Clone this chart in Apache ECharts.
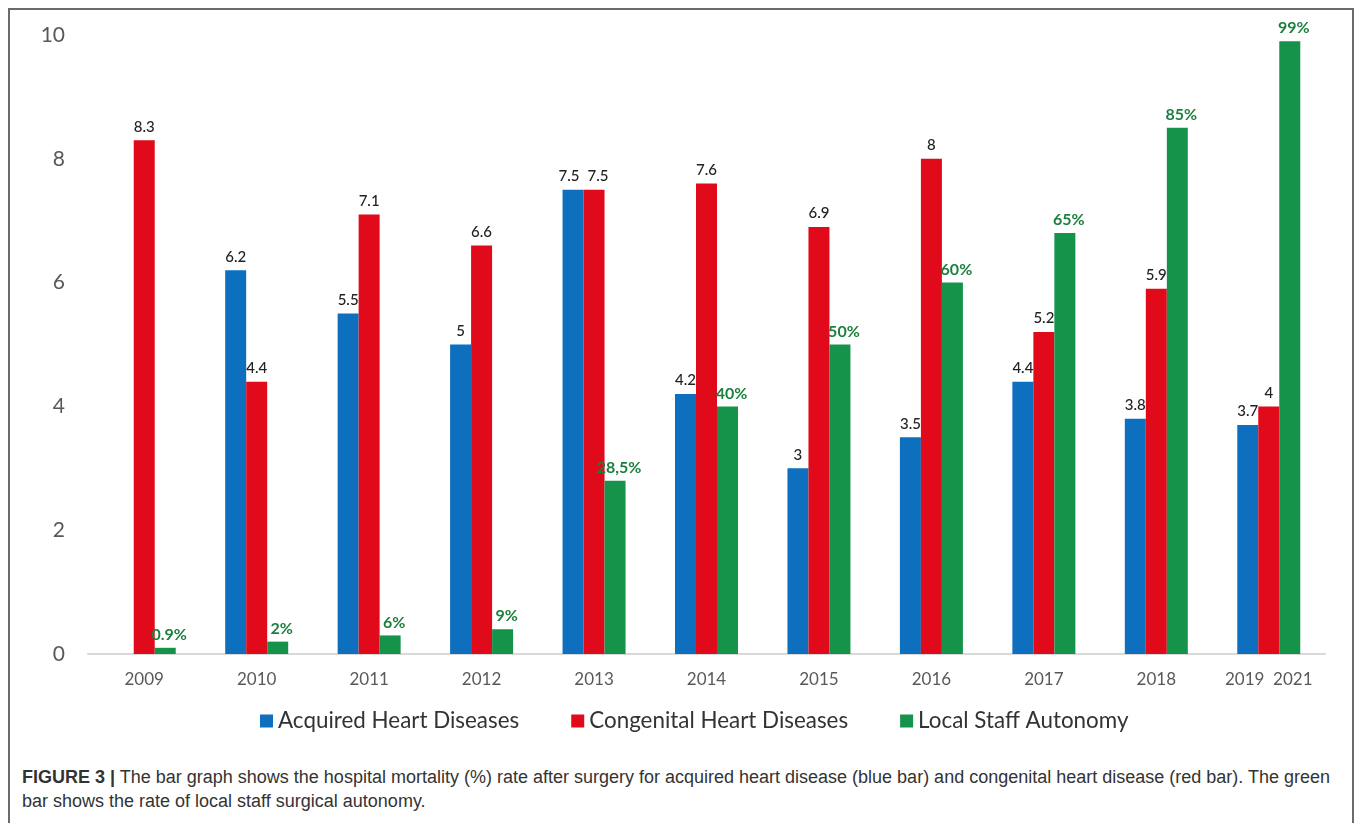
<!DOCTYPE html>
<html><head><meta charset="utf-8">
<script src="https://cdn.jsdelivr.net/npm/echarts@6/dist/echarts.min.js"></script>
<style>
html,body{margin:0;padding:0;background:#fff;width:1358px;height:823px;overflow:hidden;}
#frame{position:absolute;left:8px;top:8px;width:1346px;height:830px;border:2px solid #6b6b6b;border-bottom:none;box-sizing:border-box;}
#chart{position:absolute;left:0;top:0;width:1358px;height:760px;}
#cap{position:absolute;left:22px;top:765px;font-family:"Liberation Sans",Arial,sans-serif;font-size:18px;line-height:24px;color:#333;white-space:nowrap;}
</style></head><body>
<div id="frame"></div>
<div id="chart"></div>
<div id="cap"><b>FIGURE 3 |</b> The bar graph shows the hospital mortality (%) rate after surgery for acquired heart disease (blue bar) and congenital heart disease (red bar). The green<br>bar shows the rate of local staff surgical autonomy.</div>
<script>
const categories = ['2009','2010','2011','2012','2013','2014','2015','2016','2017','2018','2019  2021'];
const acquired = [null,6.2,5.5,5,7.5,4.2,3,3.5,4.4,3.8,3.7];
const congenital = [8.3,4.4,7.1,6.6,7.5,7.6,6.9,8,5.2,5.9,4];
const autonomyBar = [0.1,0.2,0.3,0.4,2.8,4,5,6,6.8,8.5,9.9];
const autonomyLabels = ['0.9%','2%','6%','9%','28,5%','40%','50%','60%','65%','85%','99%'];
const yTicks = [0,2,4,6,8,10];

const font = 'Lato, "Open Sans", sans-serif';
const chart = echarts.init(document.getElementById('chart'));
const numLabel = {show:true,position:'top',distance:6,color:'#222',fontFamily:font,fontSize:15,fontWeight:500};
// separate the two equal labels of 2013 a little, as in the original
function withNudge(arr, idx, dx){
  return arr.map((v,i)=> i===idx ? {value:v,label:{offset:[dx,0]}} : v);
}
chart.setOption({
  animation:false,
  grid:{left:88,right:33,top:35,bottom:106,containLabel:false},
  legend:{
    bottom:23,left:255,itemWidth:13,itemHeight:13,itemGap:52,
    textStyle:{fontFamily:font,fontSize:22.4,color:'#333'},
    icon:'rect',
    data:['Acquired Heart Diseases','Congenital Heart Diseases','Local Staff Autonomy']
  },
  xAxis:{type:'category',data:categories,
    axisLine:{lineStyle:{color:'#d9d9d9',width:2}},axisTick:{show:false},
    axisLabel:{interval:0,color:'#595959',fontFamily:font,fontSize:17,margin:17}},
  yAxis:{type:'value',min:yTicks[0],max:yTicks[yTicks.length-1],interval:2,
    splitLine:{show:false},axisLine:{show:false},axisTick:{show:false},
    axisLabel:{color:'#595959',fontFamily:font,fontSize:21,margin:23}},
  series:[
    {name:'Acquired Heart Diseases',type:'bar',data:withNudge(acquired,4,-4),barWidth:21,barGap:'0%',
     itemStyle:{color:'#0F6FBF'},label:numLabel},
    {name:'Congenital Heart Diseases',type:'bar',data:withNudge(congenital,4,4),barWidth:21,barGap:'0%',
     itemStyle:{color:'#E00A1A'},label:numLabel},
    {name:'Local Staff Autonomy',type:'bar',data:autonomyBar,barWidth:21,barGap:'0%',
     itemStyle:{color:'#16934A'},
     label:{show:true,position:'top',distance:5,color:'#1B7F3E',fontFamily:font,fontSize:16,fontWeight:'bold',
       offset:[4,0],
       formatter:p=>autonomyLabels[p.dataIndex]}}
  ]
});
</script></body></html>
